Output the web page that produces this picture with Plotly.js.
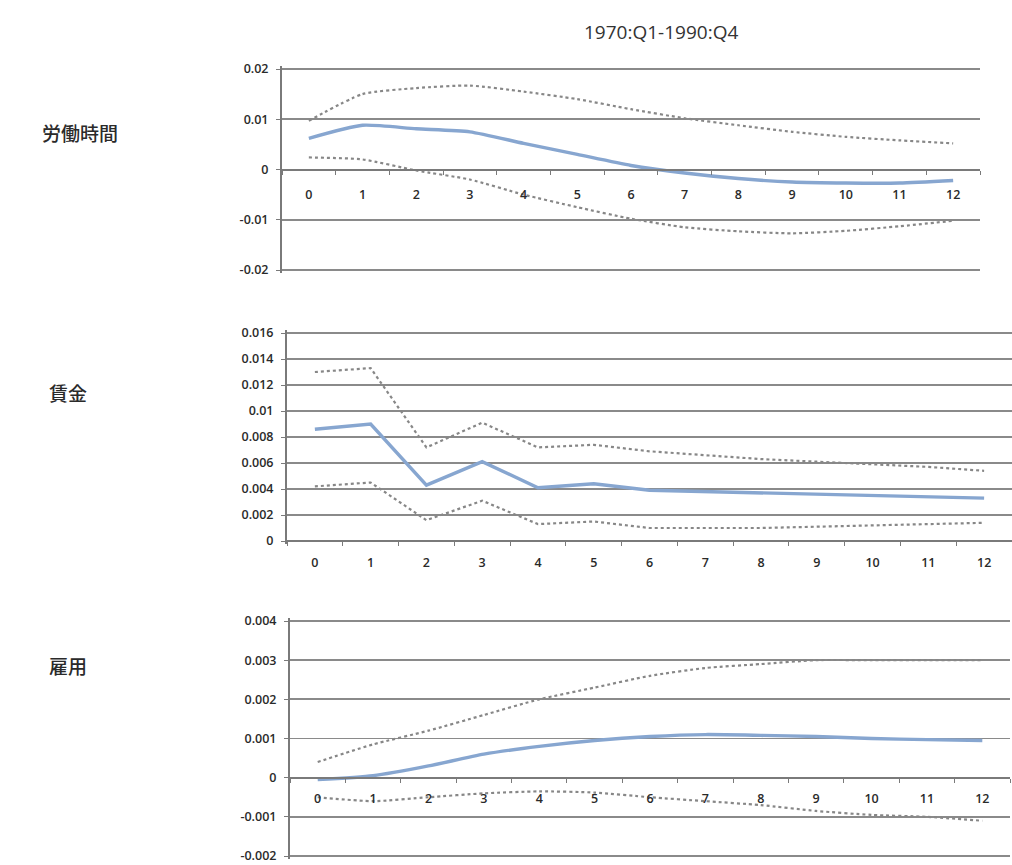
<!DOCTYPE html>
<html>
<head>
<meta charset="utf-8">
<script src="https://cdn.plot.ly/plotly-3.0.1.min.js"></script>
<style>html,body{margin:0;padding:0;background:#fff}#chart{width:1012px;height:865px}</style>
</head>
<body>
<div id="chart"></div>
<script>
const periods = ["0","1","2","3","4","5","6","7","8","9","10","11","12"];

const hoursMain  = [0.0062, 0.0088, 0.0081, 0.0075, 0.0052, 0.0030, 0.0008, -0.0007, -0.0018, -0.0025, -0.0027, -0.0027, -0.0022];
const hoursUpper = [0.0097, 0.0150, 0.0162, 0.0167, 0.0155, 0.0140, 0.0120, 0.0102, 0.0088, 0.0075, 0.0065, 0.0058, 0.0052];
const hoursLower = [0.0024, 0.0020, -0.0002, -0.0020, -0.0050, -0.0075, -0.0098, -0.0115, -0.0123, -0.0127, -0.0122, -0.0113, -0.0102];

const wageMain  = [0.0086, 0.0090, 0.0043, 0.0061, 0.0041, 0.0044, 0.0039, 0.0038, 0.0037, 0.0036, 0.0035, 0.0034, 0.0033];
const wageUpper = [0.0130, 0.0133, 0.0072, 0.0091, 0.0072, 0.0074, 0.0069, 0.0066, 0.0063, 0.0061, 0.0059, 0.0057, 0.0054];
const wageLower = [0.0042, 0.0045, 0.0016, 0.0031, 0.0013, 0.0015, 0.0010, 0.0010, 0.0010, 0.0011, 0.0012, 0.0013, 0.0014];

const empMain  = [-0.00005, 0.00005, 0.0003, 0.0006, 0.0008, 0.00095, 0.00105, 0.0011, 0.00108, 0.00105, 0.0010, 0.00097, 0.00095];
const empUpper = [0.0004, 0.00085, 0.0012, 0.0016, 0.0020, 0.0023, 0.0026, 0.0028, 0.0029, 0.0030, 0.0030, 0.0030, 0.0030];
const empLower = [-0.0005, -0.0006, -0.0005, -0.0004, -0.00035, -0.00038, -0.0005, -0.0006, -0.0007, -0.00085, -0.00095, -0.0010, -0.0011];

const hoursTicks = [0.02, 0.01, 0, -0.01, -0.02];
const hoursTickText = ["0.02", "0.01", "0", "-0.01", "-0.02"];
const wageTicks = [0.016, 0.014, 0.012, 0.01, 0.008, 0.006, 0.004, 0.002, 0];
const wageTickText = ["0.016", "0.014", "0.012", "0.01", "0.008", "0.006", "0.004", "0.002", "0"];
const empTicks = [0.004, 0.003, 0.002, 0.001, 0, -0.001, -0.002];
const empTickText = ["0.004", "0.003", "0.002", "0.001", "0", "-0.001", "-0.002"];

const panelLabels = ["労働時間", "賃金", "雇用"];
const chartTitle = "1970:Q1-1990:Q4";

const W = 1012, H = 865;
const px = v => v / W;
const py = v => (H - v) / H;

const mainColor = "#87a6d0";
const bandColor = "#878787";
const gridColor = "#8a8a8a";
const lineColor = "#7a7a7a";
const tickFont = {family: "Open Sans, Liberation Sans, sans-serif", size: 12.5, color: "#2a2a2a", weight: 600};

const panels = [
  {main: hoursMain, up: hoursUpper, lo: hoursLower, shape: "spline", ticks: hoursTicks, text: hoursTickText,
   range: [-0.02, 0.02], x: [282, 980], y: [69, 270], label: [40, 132], standoff: 13},
  {main: wageMain, up: wageUpper, lo: wageLower, shape: "linear", ticks: wageTicks, text: wageTickText,
   range: [0, 0.016], x: [287, 1012], y: [333, 541], label: [47, 392], standoff: 10},
  {main: empMain, up: empUpper, lo: empLower, shape: "spline", ticks: empTicks, text: empTickText,
   range: [-0.002, 0.004], x: [290, 1010], y: [621, 856], label: [47, 665], standoff: 9}
];

const data = [];
const layout = {
  width: W, height: H,
  margin: {l: 0, r: 0, t: 0, b: 0},
  paper_bgcolor: "#ffffff", plot_bgcolor: "#ffffff",
  showlegend: false,
  annotations: [{
    text: chartTitle, xref: "paper", yref: "paper", x: px(661), y: py(32),
    xanchor: "center", yanchor: "middle", showarrow: false,
    font: {family: "Open Sans, Liberation Sans, sans-serif", size: 19, color: "#333333"}
  }]
};

panels.forEach((p, i) => {
  const n = i === 0 ? "" : String(i + 1);
  const xa = "x" + n, ya = "y" + n;
  [[p.up, bandColor, "dot", 2.2], [p.lo, bandColor, "dot", 2.2], [p.main, mainColor, "solid", 3.4]].forEach(s => {
    data.push({
      type: "scatter", mode: "lines", x: periods, y: s[0], xaxis: xa, yaxis: ya,
      line: {color: s[1], dash: s[2], width: s[3], shape: p.shape, smoothing: 0.6},
      hoverinfo: "skip"
    });
  });
  // padding of a few pixels so the gridlines at the range ends are still drawn
  const span = p.range[1] - p.range[0];
  const pxPerUnit = (p.y[1] - p.y[0]) / span;
  const padPx = 3;
  const pad = padPx / pxPerUnit;
  const yTop = p.y[0] - padPx, yBot = p.y[1] + padPx;
  const yDom = [py(yBot), py(yTop)];
  const rng = [p.range[0] - pad, p.range[1] + pad];
  const zeroPos = yDom[0] + (0 - rng[0]) / (rng[1] - rng[0]) * (yDom[1] - yDom[0]);
  layout["xaxis" + n] = {
    type: "category", domain: [px(p.x[0]), px(p.x[1])], range: [-0.5, 12.5],
    anchor: "free", position: zeroPos,
    showline: true, linecolor: lineColor, linewidth: 2,
    ticks: "outside", ticklen: 4, tickcolor: lineColor, tickson: "boundaries",
    showgrid: false, zeroline: false, ticklabeloverflow: "allow",
    tickfont: tickFont, ticklabelstandoff: p.standoff, fixedrange: true
  };
  layout["yaxis" + n] = {
    domain: yDom, range: rng, anchor: xa,
    tickvals: p.ticks, ticktext: p.text,
    showline: true, linecolor: lineColor, linewidth: 2,
    ticks: "outside", ticklen: 4, tickcolor: lineColor,
    showgrid: true, gridcolor: gridColor, gridwidth: 1.8,
    zeroline: false, tickfont: tickFont, ticklabelstandoff: 5, ticklabeloverflow: "allow",
    fixedrange: true
  };
  layout.annotations.push({
    text: panelLabels[i], xref: "paper", yref: "paper", x: px(p.label[0]), y: py(p.label[1]),
    xanchor: "left", yanchor: "middle", showarrow: false,
    font: {family: "Noto Sans CJK JP, sans-serif", size: 19, color: "#2a2a2a", weight: 500}
  });
});

Plotly.newPlot("chart", data, layout, {staticPlot: true});
</script>
</body>
</html>
